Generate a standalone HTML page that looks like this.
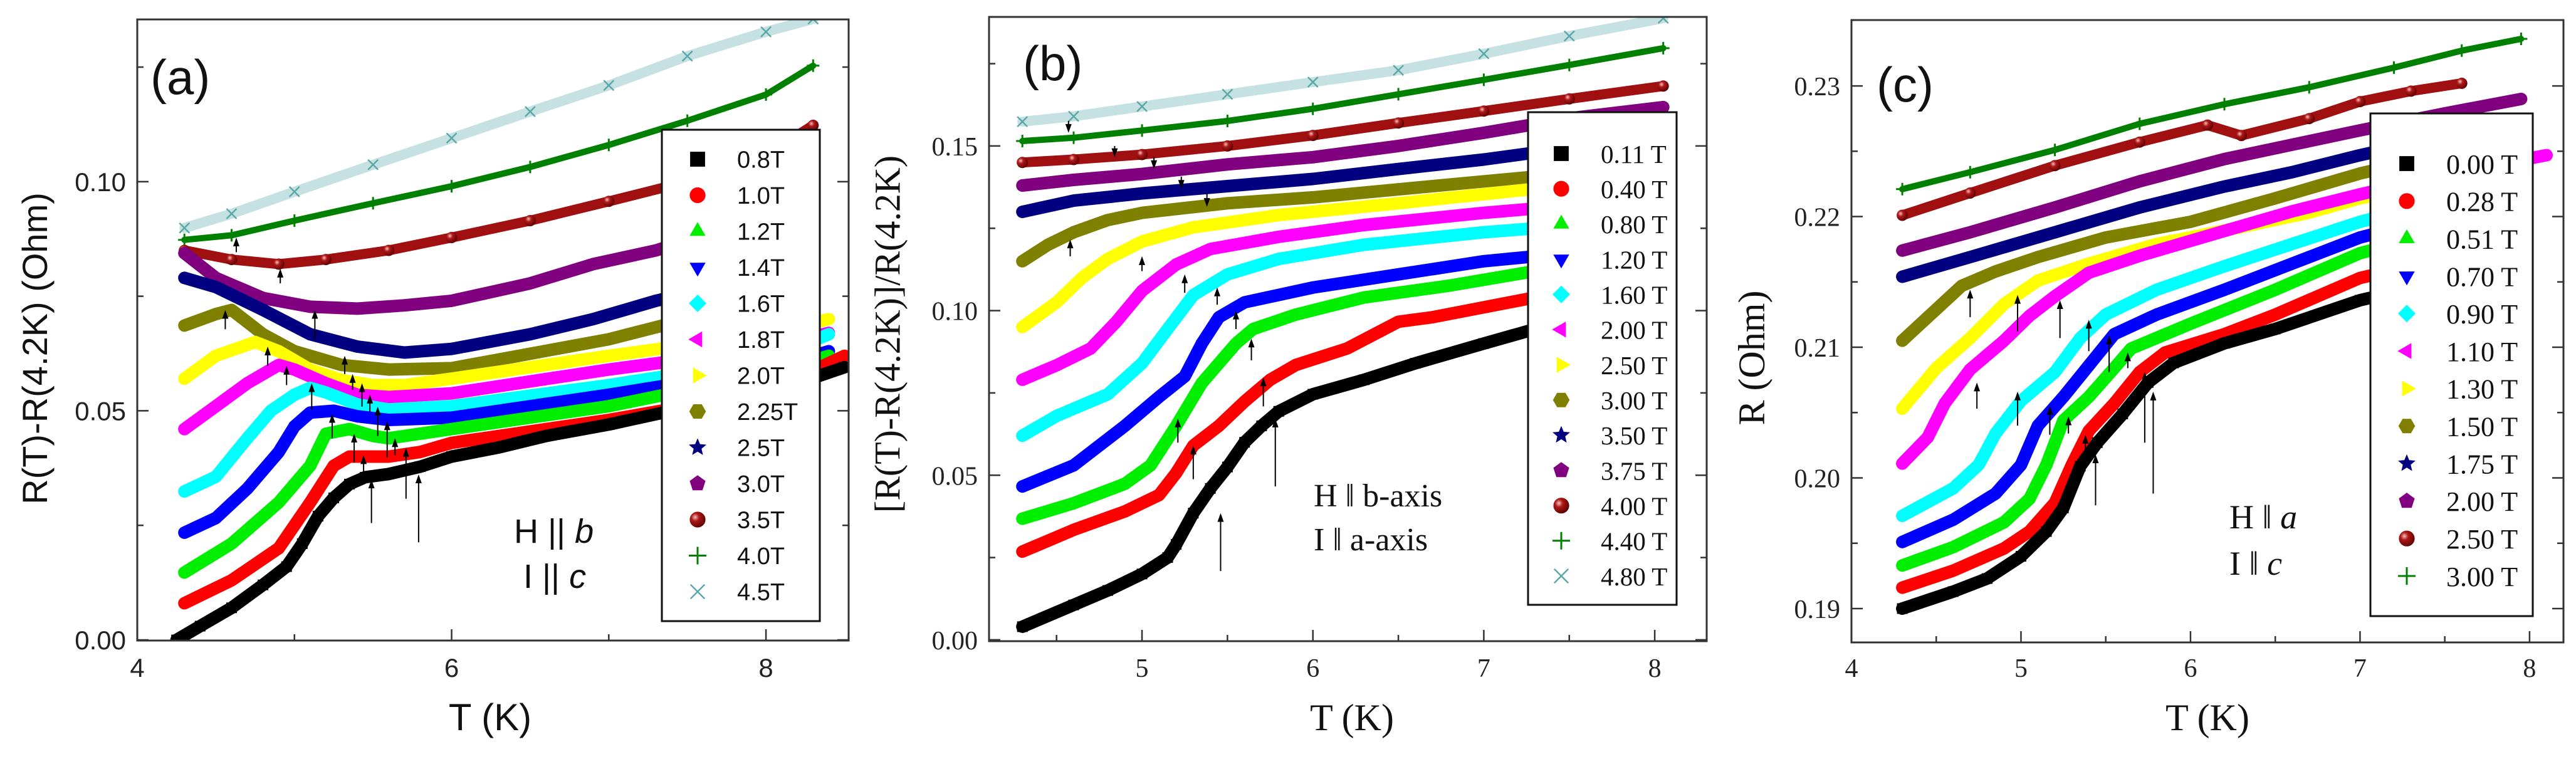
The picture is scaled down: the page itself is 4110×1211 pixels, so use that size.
<!DOCTYPE html>
<html><head><meta charset="utf-8">
<style>
html,body{margin:0;padding:0;background:#fff;}
svg{display:block;}
</style></head>
<body>
<svg id="fig" xmlns="http://www.w3.org/2000/svg" width="4110" height="1211" viewBox="0 0 4110 1211">
<defs>
<radialGradient id="sph" cx="0.35" cy="0.35" r="0.7">
<stop offset="0" stop-color="#f3c0c0"/><stop offset="0.35" stop-color="#b01818"/><stop offset="1" stop-color="#5a0000"/>
</radialGradient>
<clipPath id="clipA"><rect x="219" y="31" width="1135" height="991"/></clipPath>
<clipPath id="clipB"><rect x="1578" y="27" width="1145" height="996"/></clipPath>
<clipPath id="clipC"><rect x="2954" y="32" width="1136" height="993"/></clipPath>
</defs>
</svg>
<script>
// ---------- Panel (a) data ----------
const aLabels = ["0.8T","1.0T","1.2T","1.4T","1.6T","1.8T","2.0T","2.25T","2.5T","3.0T","3.5T","4.0T","4.5T"];
const aTemps = [
 [4.25,4.4,4.6,4.8,4.95,5.05,5.15,5.25,5.35,5.45,5.6,5.8,6.0,6.3,6.6,7.0,7.4,7.8,8.2,8.5],
 [4.3,4.6,4.9,5.1,5.25,5.35,5.6,5.8,6.0,7.0,8.0,8.5],
 [4.3,4.6,4.9,5.1,5.2,5.35,5.5,5.6,6.0,7.0,8.0,8.4],
 [4.3,4.5,4.7,4.9,5.0,5.1,5.25,5.4,5.6,6.0,7.0,8.0,8.4],
 [4.3,4.5,4.7,4.85,5.0,5.1,5.2,5.4,5.6,6.0,7.0,8.0,8.4],
 [4.3,4.5,4.7,4.9,5.0,5.2,5.4,5.6,6.0,7.0,8.0,8.4],
 [4.3,4.5,4.75,4.9,5.1,5.3,5.5,5.7,6.0,7.0,8.0,8.4],
 [4.3,4.5,4.6,4.8,5.0,5.3,5.6,6.0,7.0,8.3],
 [4.3,4.5,4.8,5.1,5.4,5.7,6.0,6.5,6.9,7.3,8.3],
 [4.3,4.5,4.8,5.1,5.4,5.7,6.0,6.5,6.9,7.3,8.3],
 [4.3,4.6,4.9,5.2,5.6,6.0,6.5,7.0,7.5,8.0,8.3],
 [4.3,4.6,5.0,5.5,6.0,6.5,7.0,7.5,8.0,8.3],
 [4.3,4.6,5.0,5.5,6.0,6.5,7.0,7.5,8.0,8.3]
];
const aValues = [
 [0.000,0.003,0.007,0.012,0.016,0.021,0.027,0.031,0.034,0.0355,0.0362,0.0378,0.040,0.042,0.0445,0.047,0.050,0.053,0.056,0.0595],
 [0.008,0.013,0.020,0.030,0.038,0.040,0.040,0.041,0.043,0.048,0.054,0.062],
 [0.0147,0.021,0.030,0.038,0.045,0.046,0.0445,0.044,0.046,0.051,0.058,0.062],
 [0.0234,0.0266,0.033,0.041,0.0466,0.0496,0.050,0.0488,0.048,0.0485,0.0535,0.059,0.063],
 [0.0324,0.0356,0.044,0.050,0.0535,0.055,0.054,0.0514,0.0503,0.051,0.0556,0.061,0.0667],
 [0.046,0.051,0.056,0.060,0.059,0.056,0.0535,0.053,0.0538,0.059,0.0635,0.067],
 [0.057,0.062,0.065,0.063,0.059,0.0567,0.0556,0.0556,0.057,0.062,0.0667,0.070],
 [0.0686,0.0711,0.072,0.0667,0.063,0.060,0.059,0.0593,0.0656,0.077],
 [0.079,0.077,0.072,0.0667,0.064,0.0627,0.0635,0.0667,0.070,0.074,0.0825],
 [0.0844,0.079,0.0746,0.0727,0.0723,0.073,0.074,0.0778,0.082,0.085,0.0957],
 [0.085,0.083,0.082,0.083,0.085,0.0878,0.0915,0.0957,0.100,0.1057,0.1123],
 [0.0873,0.0883,0.0915,0.0953,0.099,0.1032,0.108,0.1133,0.119,0.1253],
 [0.0899,0.093,0.0978,0.1037,0.1095,0.1153,0.121,0.1274,0.1327,0.1355]
];
const aArrowT = [4.63,4.91,5.13,4.56,4.83,4.95,5.11,5.32,5.37,5.43,5.48,5.53,5.24,5.59,5.38,5.64,5.44,5.71,5.49,5.79];
const aArrowTip = [0.0878,0.081,0.072,0.072,0.064,0.0598,0.056,0.062,0.058,0.056,0.0535,0.0509,0.0493,0.0477,0.045,0.044,0.0403,0.0419,0.035,0.0361];
const aArrowTail = [0.0846,0.0778,0.0656,0.0678,0.0598,0.0556,0.0503,0.058,0.0546,0.0509,0.0498,0.0445,0.044,0.0398,0.0387,0.0403,0.035,0.0308,0.0255,0.0213];
const aXTicks = [4,6,8];
const aXTickLabels = ["4","6","8"];
const aXMinor = [5,7];
const aYTicks = [0,0.05,0.10];
const aYTickLabels = ["0.00","0.05","0.10"];
const aYMinor = [0.025,0.075,0.125];

// ---------- Panel (b) data ----------
const bLabels = ["0.11 T","0.40 T","0.80 T","1.20 T","1.60 T","2.00 T","2.50 T","3.00 T","3.50 T","3.75 T","4.00 T","4.40 T","4.80 T"];
const bTemps = [
 [4.3,4.6,4.8,5.0,5.15,5.2,5.3,5.4,5.5,5.6,5.7,5.8,6.0,6.3,6.6,7.0,7.3,7.6],
 [4.3,4.6,4.9,5.1,5.2,5.3,5.45,5.6,5.75,5.9,6.2,6.5,6.7,7.0,7.3,7.6],
 [4.3,4.6,4.9,5.05,5.2,5.35,5.55,5.65,5.9,6.3,6.8,7.3,7.6],
 [4.3,4.6,4.9,5.1,5.25,5.35,5.45,5.6,6.0,6.5,7.0,7.3,7.6],
 [4.3,4.5,4.8,5.0,5.15,5.3,5.5,5.8,6.3,7.0,7.3,7.6],
 [4.3,4.5,4.7,4.85,5.0,5.2,5.4,5.8,6.3,7.0,7.3,7.6],
 [4.3,4.5,4.65,4.8,5.0,5.3,5.8,6.5,7.3,7.6],
 [4.3,4.45,4.6,4.8,5.0,5.5,6.0,6.7,7.3,7.6],
 [4.3,4.6,5.0,5.5,6.0,6.5,7.0,7.3,7.6],
 [4.3,4.6,5.0,5.5,6.0,6.5,7.0,7.5,8.05],
 [4.3,4.6,5.0,5.5,6.0,6.5,7.0,7.5,8.05],
 [4.3,4.6,5.0,5.5,6.0,6.5,7.0,7.5,8.05],
 [4.3,4.6,5.0,5.5,6.0,6.5,7.0,7.5,8.05]
];
const bValues = [
 [0.004,0.0106,0.015,0.020,0.025,0.029,0.0385,0.046,0.0525,0.060,0.065,0.0694,0.0746,0.079,0.084,0.090,0.0944,0.097],
 [0.0268,0.0334,0.039,0.044,0.0507,0.059,0.065,0.0724,0.079,0.0835,0.0885,0.0966,0.098,0.101,0.104,0.106],
 [0.0368,0.0415,0.0474,0.053,0.065,0.078,0.090,0.0944,0.0988,0.104,0.1076,0.112,0.114],
 [0.0466,0.053,0.065,0.0738,0.080,0.090,0.098,0.1025,0.107,0.111,0.115,0.1165,0.118],
 [0.062,0.068,0.0746,0.084,0.0944,0.1047,0.111,0.1157,0.120,0.1238,0.125,0.126],
 [0.079,0.0834,0.0885,0.0966,0.106,0.114,0.1187,0.1224,0.126,0.1297,0.131,0.132],
 [0.095,0.1025,0.110,0.1157,0.121,0.1253,0.129,0.1326,0.137,0.138],
 [0.115,0.120,0.1238,0.1275,0.1297,0.1326,0.1344,0.1378,0.1407,0.142],
 [0.130,0.1334,0.1356,0.1378,0.140,0.143,0.1459,0.148,0.150],
 [0.138,0.1397,0.1415,0.1444,0.1466,0.150,0.154,0.1584,0.1618],
 [0.145,0.1459,0.1474,0.150,0.1532,0.157,0.1606,0.1643,0.1682],
 [0.1515,0.1525,0.1547,0.1576,0.1613,0.1657,0.1701,0.1746,0.1797],
 [0.1574,0.159,0.162,0.1657,0.1694,0.173,0.178,0.1834,0.1888]
];
const bArrowT = [4.57,4.84,5.07,5.23,5.38,4.58,5.0,5.25,5.44,5.55,5.64,5.71,5.21,5.3,5.78,5.46];
const bArrowTip = [0.154,0.1466,0.143,0.137,0.1315,0.1216,0.1165,0.111,0.107,0.100,0.0915,0.0797,0.0672,0.059,0.0672,0.0385];
const bArrowTail = [0.1576,0.150,0.1466,0.1407,0.1356,0.1165,0.112,0.1054,0.1018,0.0944,0.0849,0.0709,0.0599,0.0488,0.0466,0.0209];
const bXTicks = [5,6,7,8];
const bXTickLabels = ["5","6","7","8"];
const bXMinor = [4.5,5.5,6.5,7.5];
const bYTicks = [0,0.05,0.10,0.15];
const bYTickLabels = ["0.00","0.05","0.10","0.15"];
const bYMinor = [0.025,0.075,0.125,0.175];

// ---------- Panel (c) data ----------
const cLabels = ["0.00 T","0.28 T","0.51 T","0.70 T","0.90 T","1.10 T","1.30 T","1.50 T","1.75 T","2.00 T","2.50 T","3.00 T"];
const cTemps = [
 [4.3,4.6,4.8,5.0,5.15,5.25,5.35,5.45,5.6,5.75,5.9,6.2,6.5,7.0,7.3],
 [4.3,4.6,4.9,5.05,5.2,5.3,5.4,5.55,5.7,5.85,6.2,6.5,7.0,7.3],
 [4.3,4.6,4.9,5.05,5.15,5.25,5.4,5.55,5.65,6.0,6.5,7.0,7.3],
 [4.3,4.6,4.85,5.0,5.1,5.25,5.4,5.55,5.8,6.2,6.6,7.0,7.3],
 [4.3,4.6,4.75,4.85,5.0,5.2,5.35,5.5,5.8,6.2,6.6,7.0,7.3],
 [4.3,4.45,4.55,4.7,4.9,5.05,5.2,5.4,5.7,6.2,6.6,7.0,7.5,8.1],
 [4.3,4.5,4.7,4.9,5.1,5.4,5.8,6.3,6.7,7.0,7.3],
 [4.3,4.5,4.65,4.85,5.1,5.5,6.0,6.5,7.0,7.3],
 [4.3,4.7,5.2,5.7,6.2,6.6,7.0,7.9],
 [4.3,4.7,5.2,5.7,6.2,6.6,7.0,7.5,7.95],
 [4.3,4.7,5.2,5.7,6.1,6.3,6.7,7.0,7.3,7.6],
 [4.3,4.7,5.2,5.7,6.2,6.7,7.2,7.6,7.95]
];
const cValues = [
 [0.190,0.1913,0.1923,0.194,0.1959,0.1977,0.2009,0.2027,0.2049,0.2073,0.2088,0.2103,0.2114,0.2136,0.2145],
 [0.1916,0.1929,0.1946,0.1959,0.1981,0.201,0.2036,0.2057,0.2081,0.2096,0.211,0.2125,0.2153,0.2162],
 [0.1933,0.1947,0.1966,0.1984,0.201,0.2044,0.2062,0.2084,0.2099,0.2118,0.2144,0.2172,0.2182],
 [0.1951,0.1968,0.1988,0.201,0.204,0.2062,0.2086,0.211,0.2125,0.2144,0.2164,0.2184,0.2194],
 [0.1971,0.1992,0.201,0.2034,0.2059,0.2081,0.2107,0.2125,0.2144,0.2162,0.2179,0.2196,0.2206],
 [0.2011,0.2031,0.2057,0.2083,0.2105,0.2124,0.2139,0.2157,0.217,0.2189,0.2204,0.2217,0.2232,0.2247],
 [0.2053,0.2084,0.2107,0.2133,0.2151,0.2164,0.2179,0.2192,0.2203,0.2214,0.2222],
 [0.2105,0.2129,0.2147,0.2158,0.2169,0.2184,0.2196,0.2214,0.2233,0.2242],
 [0.2154,0.2169,0.2188,0.2207,0.2223,0.2234,0.2247,0.2273],
 [0.2174,0.2188,0.2207,0.2227,0.2244,0.2255,0.2266,0.2279,0.229],
 [0.2201,0.2218,0.2239,0.2257,0.227,0.2262,0.2275,0.2288,0.2296,0.2302],
 [0.2221,0.2234,0.2251,0.2271,0.2286,0.2299,0.2314,0.2327,0.2336]
];
const cArrowT = [4.7,4.98,5.23,5.40,5.52,5.63,4.74,4.98,5.17,5.28,5.38,5.73,5.78,5.44];
const cArrowTip = [0.2144,0.2140,0.2136,0.2121,0.2109,0.2096,0.2073,0.2066,0.2055,0.2047,0.2033,0.2081,0.2066,0.2018];
const cArrowTail = [0.2123,0.2112,0.2107,0.2097,0.2081,0.2084,0.2053,0.2040,0.2033,0.2034,0.2018,0.2027,0.1988,0.1979];
const cXTicks = [4,5,6,7,8];
const cXTickLabels = ["4","5","6","7","8"];
const cXMinor = [4.5,5.5,6.5,7.5];
const cYTicks = [0.19,0.20,0.21,0.22,0.23];
const cYTickLabels = ["0.19","0.20","0.21","0.22","0.23"];
const cYMinor = [0.195,0.205,0.215,0.225];

const SHAPES = ["square","circle","up","down","diamond","left","right","hexagon","star","pentagon","sphere","plus","cross"];
const COLORS = ["#000000","#ff0000","#00ee00","#0000ff","#00ffff","#ff00ff","#ffff00","#808000","#000080","#800080","#8b0000","#008000","#5aa8a8"];
const NS = "http://www.w3.org/2000/svg";
const svg = document.getElementById("fig");

function mk(tag, attrs, parent){
  const e = document.createElementNS(NS, tag);
  for (const k in attrs) e.setAttribute(k, attrs[k]);
  if (parent) parent.appendChild(e);
  return e;
}
function poly(n, r, rot){
  const p=[];
  for(let i=0;i<n;i++){const a=rot+i*2*Math.PI/n;p.push((r*Math.cos(a)).toFixed(1)+","+(r*Math.sin(a)).toFixed(1));}
  return p.join(" ");
}
function starPts(r){
  const p=[];
  for(let i=0;i<10;i++){const rr=i%2?r*0.45:r;const a=-Math.PI/2+i*Math.PI/5;p.push((rr*Math.cos(a)).toFixed(1)+","+(rr*Math.sin(a)).toFixed(1));}
  return p.join(" ");
}
function marker(parent, shape, cx, cy, s, color){
  const g = mk("g", {transform:"translate("+cx.toFixed(1)+","+cy.toFixed(1)+")"}, parent);
  const h = s/2;
  switch(shape){
    case "square": mk("rect",{x:-h*0.85,y:-h*0.85,width:s*0.85,height:s*0.85,fill:color},g);break;
    case "circle": mk("circle",{r:h*0.9,fill:color},g);break;
    case "up": mk("polygon",{points:poly(3,h*1.05,-Math.PI/2),fill:color},g);break;
    case "down": mk("polygon",{points:poly(3,h*1.05,Math.PI/2),fill:color},g);break;
    case "diamond": mk("polygon",{points:poly(4,h,-Math.PI/2),fill:color},g);break;
    case "left": mk("polygon",{points:poly(3,h*1.05,Math.PI),fill:color},g);break;
    case "right": mk("polygon",{points:poly(3,h*1.05,0),fill:color},g);break;
    case "hexagon": mk("polygon",{points:poly(6,h*0.95,0),fill:color},g);break;
    case "star": mk("polygon",{points:starPts(h*1.05),fill:color},g);break;
    case "pentagon": mk("polygon",{points:poly(5,h*0.95,-Math.PI/2),fill:color},g);break;
    case "sphere": mk("circle",{r:h*0.9,fill:"url(#sph)"},g);break;
    case "plus": mk("path",{d:"M"+(-h)+",0H"+h+"M0,"+(-h)+"V"+h,stroke:color,"stroke-width":3,fill:"none"},g);break;
    case "cross": mk("path",{d:"M"+(-h*0.8)+","+(-h*0.8)+"L"+(h*0.8)+","+(h*0.8)+"M"+(-h*0.8)+","+(h*0.8)+"L"+(h*0.8)+","+(-h*0.8),stroke:color,"stroke-width":2.5,fill:"none"},g);break;
  }
  return g;
}

function drawPanel(cfg){
  const P = mk("g", {}, svg);
  
  
  const sx = v => cfg.x0 + (v - cfg.xmin) / (cfg.xmax - cfg.xmin) * (cfg.x1 - cfg.x0);
  const sy = v => cfg.y1 - (v - cfg.ymin) / (cfg.ymax - cfg.ymin) * (cfg.y1 - cfg.y0);

  const data = mk("g", {"clip-path":"url(#"+cfg.clip+")"}, P);
  
  
  for (let i = cfg.temps.length - 1; i >= 0; i--) {
    const sg = mk("g", {}, data);
    
    
    const pts = cfg.temps[i].map((t,k) => sx(t).toFixed(1) + "," + sy(cfg.values[i][k]).toFixed(1)).join(" ");
    const sh = SHAPES[i], col = COLORS[i];
    let w = 20, op = 1;
    if (sh === "plus") { w = 10; }
    if (sh === "cross") { w = 16; op = 0.35; }
    if (sh === "sphere") { w = 16; }
    const line = mk("polyline", {points:pts, fill:"none", stroke: sh==="sphere" ? "#a01010" : col, "stroke-width":w, "stroke-linejoin":"round", "stroke-linecap":"round", "stroke-opacity":op}, sg);
    
    
    cfg.temps[i].forEach((t,k) => {
      const m = marker(sg, sh, sx(t), sy(cfg.values[i][k]), 20, col);
      
      
    });
  }

  const ag = mk("g", {}, P);
  
  
  cfg.arrowT.forEach((t,k) => {
    const x = sx(t), yt = sy(cfg.arrowTip[k]), yb = sy(cfg.arrowTail[k]);
    const dir = yb > yt ? 1 : -1;
    const a = mk("g", {}, ag);
    
    
    mk("line", {x1:x, y1:yb, x2:x, y2:yt + dir*8, stroke:"#000", "stroke-width":2}, a);
    mk("polygon", {points: x+","+yt+" "+(x-5)+","+(yt+dir*14)+" "+(x+5)+","+(yt+dir*14), fill:"#000"}, a);
  });

  const fr = mk("rect", {x:cfg.x0, y:cfg.y0, width:cfg.x1-cfg.x0, height:cfg.y1-cfg.y0, fill:"none", stroke:"#333", "stroke-width":3}, P);
  
  

  const tg = mk("g", {stroke:"#333","stroke-width":2.5}, P);
  
  
  cfg.xTicks.forEach(v => { const x=sx(v); mk("line",{x1:x,y1:cfg.y1,x2:x,y2:cfg.y1-18},tg); });
  cfg.xMinor.forEach(v => { const x=sx(v); mk("line",{x1:x,y1:cfg.y1,x2:x,y2:cfg.y1-10},tg); });
  cfg.yTicks.forEach(v => { const y=sy(v); mk("line",{x1:cfg.x0,y1:y,x2:cfg.x0+18,y2:y},tg); mk("line",{x1:cfg.x1,y1:y,x2:cfg.x1-18,y2:y},tg); });
  cfg.yMinor.forEach(v => { const y=sy(v); if(y<cfg.y0) return; mk("line",{x1:cfg.x0,y1:y,x2:cfg.x0+10,y2:y},tg); mk("line",{x1:cfg.x1,y1:y,x2:cfg.x1-10,y2:y},tg); });

  const font = cfg.font;
  const xl = mk("g", {"font-family":font, "font-size":cfg.tickSize, fill:"#222", "text-anchor":"middle"}, P);
  
  
  cfg.xTicks.forEach((v,k) => { const t=mk("text",{x:sx(v), y:1080},xl); t.textContent = cfg.xTickLabels[k]; });
  const yl = mk("g", {"font-family":font, "font-size":cfg.tickSize, fill:"#222", "text-anchor":"end"}, P);
  
  
  cfg.yTicks.forEach((v,k) => { const t=mk("text",{x:cfg.x0-18, y:sy(v)+cfg.tickSize*0.36},yl); t.textContent = cfg.yTickLabels[k]; });

  const xt = mk("text", {x:cfg.xTitleX, y:1165, "font-family":font, "font-size":60, "text-anchor":"middle", fill:"#111"}, P);
  xt.textContent = "T (K)";
  
  
  const yt = mk("text", {x:0, y:0, transform:"translate("+cfg.yTitleX+","+cfg.yTitleY+") rotate(-90)", "font-family":font, "font-size":cfg.yTitleSize, "text-anchor":"middle", "dominant-baseline":"middle", fill:"#111"}, P);
  yt.textContent = cfg.yTitle;
  
  

  const pl = mk("text", {x:cfg.labX, y:cfg.labY, "font-family":"Liberation Sans, sans-serif", "font-size":78, fill:"#111"}, P);
  pl.textContent = cfg.panelLabel;
  
  

  const an = mk("g", {"font-family":font, "font-size":cfg.annSize, fill:"#111"}, P);
  
  
  const a1 = mk("text", {x:cfg.annX, y:cfg.annY1}, an);
  a1.innerHTML = cfg.ann1;
  const a2 = mk("text", {x:cfg.annX, y:cfg.annY2}, an);
  a2.innerHTML = cfg.ann2;

  const lg = mk("g", {}, P);
  
  
  mk("rect", {x:cfg.legX0, y:cfg.legY0, width:cfg.legX1-cfg.legX0, height:cfg.legY1-cfg.legY0, fill:"#fff", stroke:"#111", "stroke-width":3}, lg);
  const step = (cfg.rowLast - cfg.rowFirst) / (cfg.labels.length - 1);
  cfg.labels.forEach((lab,i) => {
    const y = cfg.rowFirst + i*step;
    const en = mk("g", {}, lg);
    
    
    marker(en, SHAPES[i], cfg.legMarkX, y, 28, COLORS[i]);
    const t = mk("text", {x:cfg.legTextX, y:y + cfg.legSize*0.36, "font-family":font, "font-size":cfg.legSize, fill:"#111"}, en);
    t.textContent = lab;
  });
}

const SANS = "Liberation Sans, sans-serif";
const SERIF = "Liberation Serif, serif";

drawPanel({name:"panel-a", clip:"clipA", x0:219, x1:1354, y0:31, y1:1022, xmin:4, xmax:8.526, ymin:-0.00014, ymax:0.1354,
  temps:aTemps, values:aValues, labels:aLabels, arrowT:aArrowT, arrowTip:aArrowTip, arrowTail:aArrowTail,
  xTicks:aXTicks, xTickLabels:aXTickLabels, xMinor:aXMinor, yTicks:aYTicks, yTickLabels:aYTickLabels, yMinor:aYMinor,
  font:SANS, tickSize:42, xTitleX:782, yTitleX:60, yTitleY:556, yTitle:"R(T)-R(4.2K) (Ohm)", yTitleSize:56,
  panelLabel:"(a)", labX:240, labY:150, annSize:54, annX:820, annY1:866, annY2:938,
  ann1:"H || <tspan font-style='italic'>b</tspan>", ann2:"&#160;I || <tspan font-style='italic'>c</tspan>",
  legX0:1056, legX1:1308, legY0:207, legY1:991, rowFirst:254, rowLast:944, legMarkX:1113, legTextX:1176, legSize:38});

drawPanel({name:"panel-b", clip:"clipB", x0:1578, x1:2723, y0:27, y1:1023, xmin:4.105, xmax:8.304, ymin:-0.0004, ymax:0.1892,
  temps:bTemps, values:bValues, labels:bLabels, arrowT:bArrowT, arrowTip:bArrowTip, arrowTail:bArrowTail,
  xTicks:bXTicks, xTickLabels:bXTickLabels, xMinor:bXMinor, yTicks:bYTicks, yTickLabels:bYTickLabels, yMinor:bYMinor,
  font:SERIF, tickSize:42, xTitleX:2157, yTitleX:1422, yTitleY:533, yTitle:"[R(T)-R(4.2K)]/R(4.2K)", yTitleSize:58,
  panelLabel:"(b)", labX:1632, labY:128, annSize:52, annX:2096, annY1:808, annY2:878,
  ann1:"H &#8214; b-axis", ann2:"I &#8214; a-axis",
  legX0:2438, legX1:2675, legY0:179, legY1:965, rowFirst:245, rowLast:919, legMarkX:2491, legTextX:2554, legSize:41});

drawPanel({name:"panel-c", clip:"clipC", x0:2954, x1:4090, y0:32, y1:1025, xmin:4, xmax:8.2, ymin:0.18741, ymax:0.23504,
  temps:cTemps, values:cValues, labels:cLabels, arrowT:cArrowT, arrowTip:cArrowTip, arrowTail:cArrowTail,
  xTicks:cXTicks, xTickLabels:cXTickLabels, xMinor:cXMinor, yTicks:cYTicks, yTickLabels:cYTickLabels, yMinor:cYMinor,
  font:SERIF, tickSize:42, xTitleX:3522, yTitleX:2801, yTitleY:571, yTitle:"R (Ohm)", yTitleSize:60,
  panelLabel:"(c)", labX:2994, labY:162, annSize:54, annX:3557, annY1:843, annY2:917,
  ann1:"H &#8214; <tspan font-style='italic'>a</tspan>", ann2:"I &#8214; <tspan font-style='italic'>c</tspan>",
  legX0:3782, legX1:4041, legY0:181, legY1:983, rowFirst:261, rowLast:919, legMarkX:3840, legTextX:3903, legSize:44});
</script>
</body></html>
